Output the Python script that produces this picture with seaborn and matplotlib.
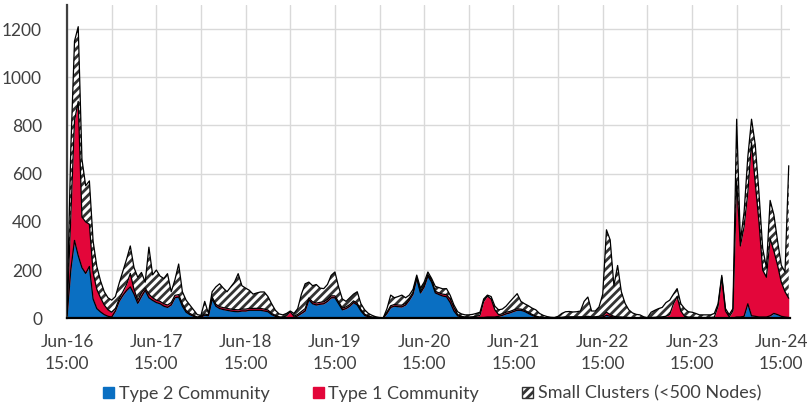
import numpy as np
import pandas as pd
import matplotlib
matplotlib.use("Agg")
import matplotlib.pyplot as plt
from matplotlib.patches import Patch
import seaborn as sns

# Hourly node counts per cluster type, starting Jun-16 15:00 (one row per day)
start_time = "2016-06-16 15:00"

type2_community = [
    10, 200, 323, 260, 210, 186, 215, 80, 40, 26, 15, 8, 5, 30, 70, 95, 115, 130, 100, 62, 90, 116, 85, 74,
    65, 60, 50, 45, 55, 85, 88, 50, 25, 15, 8, 3, 5, 13, 10, 80, 50, 40, 36, 33, 30, 28, 27, 30,
    30, 33, 33, 33, 33, 30, 27, 15, 8, 3, 2, 2, 2, 3, 10, 20, 30, 76, 60, 55, 58, 60, 70, 85,
    85, 60, 35, 40, 50, 65, 55, 30, 12, 6, 3, 2, 1, 1, 20, 45, 50, 48, 47, 55, 75, 100, 165, 105,
    130, 175, 150, 105, 98, 92, 89, 65, 30, 10, 5, 3, 3, 3, 3, 3, 3, 5, 5, 5, 8, 12, 18, 22,
    28, 33, 33, 28, 20, 12, 6, 3, 2, 1, 1, 1, 1, 2, 3, 3, 3, 3, 3, 3, 3, 3, 3, 4,
    5, 12, 8, 4, 3, 3, 2, 2, 1, 1, 1, 1, 0, 1, 1, 1, 2, 2, 2, 2, 2, 2, 1, 1,
    1, 1, 1, 1, 1, 1, 1, 1, 2, 1, 1, 1, 5, 5, 8, 60, 10, 8, 5, 5, 5, 10, 20, 15, 8, 5, 3,
]

type1_community = [
    10, 220, 497, 640, 210, 214, 175, 110, 80, 59, 40, 27, 20, 10, 10, 15, 25, 56, 20, 13, 15, 9, 15, 11,
    10, 10, 10, 10, 10, 10, 10, 10, 7, 5, 4, 2, 3, 5, 4, 8, 8, 8, 8, 8, 8, 8, 8, 8,
    8, 8, 8, 8, 8, 8, 7, 5, 4, 3, 2, 8, 25, 5, 6, 8, 10, 8, 8, 8, 8, 8, 8, 8,
    8, 8, 7, 7, 7, 7, 7, 6, 5, 3, 2, 1, 1, 0, 5, 7, 7, 7, 7, 7, 7, 8, 5, 7,
    8, 7, 8, 7, 7, 8, 9, 15, 15, 5, 3, 2, 2, 3, 5, 9, 67, 87, 75, 30, 7, 6, 7, 6,
    6, 6, 5, 5, 5, 4, 3, 2, 1, 1, 1, 1, 1, 2, 3, 3, 3, 3, 3, 3, 5, 3, 3, 4,
    5, 13, 7, 4, 3, 2, 2, 1, 1, 1, 1, 0, 1, 2, 3, 4, 4, 6, 13, 58, 88, 28, 7, 4,
    3, 2, 2, 2, 2, 2, 4, 49, 168, 29, 5, 29, 565, 295, 372, 460, 719, 552, 395, 195, 165, 320, 260, 205, 142, 105, 80,
]

small_clusters = [
    20, 280, 330, 310, 240, 150, 180, 130, 95, 70, 55, 50, 50, 50, 65, 85, 105, 114, 90, 95, 85, 25, 195, 95,
    125, 105, 105, 130, 45, 65, 127, 50, 43, 35, 23, 10, 4, 52, 6, 22, 72, 95, 81, 69, 92, 114, 150, 97,
    87, 75, 59, 64, 68, 71, 56, 40, 21, 12, 10, 10, 3, 12, 24, 72, 103, 66, 67, 77, 59, 55, 62, 85,
    99, 62, 38, 23, 28, 28, 48, 24, 18, 11, 7, 3, 1, 1, 15, 44, 28, 35, 42, 23, 14, 12, 9, 13,
    12, 10, 7, 20, 22, 22, 25, 15, 10, 12, 10, 9, 9, 10, 12, 13, 10, 4, 10, 15, 20, 20, 25, 40,
    51, 63, 32, 27, 27, 26, 26, 15, 9, 5, 2, 1, 6, 16, 21, 22, 20, 21, 24, 64, 80, 24, 24, 39,
    90, 342, 310, 127, 213, 105, 58, 32, 20, 14, 12, 5, 1, 22, 29, 35, 39, 57, 60, 40, 33, 30, 32, 22,
    21, 17, 11, 11, 11, 11, 15, 10, 8, 10, 9, 10, 256, 20, 60, 150, 97, 160, 120, 90, 40, 159, 150, 100, 70, 82, 550,
]

series_labels = ["Type 2 Community", "Type 1 Community", "Small Clusters (<500 Nodes)"]
y_ticks = [0, 200, 400, 600, 800, 1000, 1200]
day_labels = ["Jun-16", "Jun-17", "Jun-18", "Jun-19", "Jun-20", "Jun-21", "Jun-22", "Jun-23", "Jun-24"]

blue = "#0A6FC2"
red = "#E3063A"
hatch_ink = "#333333"

times = pd.date_range(start_time, periods=len(type2_community), freq="h")
df = pd.DataFrame({
    "time": times,
    "type2": type2_community,
    "type1": type1_community,
    "small": small_clusters,
})
df["level1"] = df["type2"]
df["level2"] = df["level1"] + df["type1"]
df["level3"] = df["level2"] + df["small"]

sns.set_theme(style="whitegrid")
plt.rcParams["font.family"] = ["Lato", "DejaVu Sans"]
plt.rcParams["hatch.linewidth"] = 2.0

fig, ax = plt.subplots(figsize=(8.08, 4.16), dpi=100)
fig.subplots_adjust(left=0.083, right=0.978, top=0.988, bottom=0.235)

ax.fill_between(df["time"], 0, df["level1"], color=blue, linewidth=0, zorder=2)
ax.fill_between(df["time"], df["level1"], df["level2"], color=red, linewidth=0, zorder=2)
ax.fill_between(df["time"], df["level2"], df["level3"], facecolor="white",
                edgecolor=hatch_ink, hatch="////", linewidth=0, zorder=2)

for col in ["level1", "level2", "level3"]:
    sns.lineplot(data=df, x="time", y=col, ax=ax, color="black",
                 linewidth=0.9, zorder=3, legend=False)

t0 = times[0]
end_time = t0 + pd.Timedelta(hours=194.4)
ax.set_xlim(t0, end_time)
ax.set_ylim(0, 1300)

tick_times = [t0 + pd.Timedelta(hours=12 * i) for i in range(17)]
tick_labels = []
for i in range(17):
    if i % 2 == 0:
        tick_labels.append(f"{day_labels[i // 2]}\n15:00")
    else:
        tick_labels.append("")
ax.set_xticks(tick_times)
ax.set_xticklabels(tick_labels, fontsize=12.5, color="#404040", linespacing=1.5)
ax.set_yticks(y_ticks)
ax.set_yticklabels([str(v) for v in y_ticks], fontsize=12.5, color="#404040")
ax.set_xlabel("")
ax.set_ylabel("")

ax.grid(True, color="#d9d9d9", linewidth=1.0)
ax.set_axisbelow(True)
ax.set_facecolor("white")
for side in ["top", "right"]:
    ax.spines[side].set_visible(False)
ax.spines["left"].set_color("#404040")
ax.spines["left"].set_linewidth(1.6)
ax.spines["bottom"].set_color("black")
ax.spines["bottom"].set_linewidth(1.6)
ax.tick_params(axis="both", which="major", length=5, width=1.2, color="#404040",
               direction="out")
ax.tick_params(axis="x", pad=6)
ax.tick_params(axis="y", pad=13)

handles = [
    Patch(facecolor=blue, edgecolor=blue),
    Patch(facecolor=red, edgecolor=red),
    Patch(facecolor="white", edgecolor=hatch_ink, hatch="////"),
]
fig.legend(handles, series_labels, loc="lower center", bbox_to_anchor=(0.535, -0.005),
           ncol=3, frameon=False, fontsize=13, handlelength=0.6, handleheight=0.6,
           handletextpad=0.25, columnspacing=2.4, labelcolor="#404040")

fig.savefig("out.png", dpi=100, facecolor="white")
